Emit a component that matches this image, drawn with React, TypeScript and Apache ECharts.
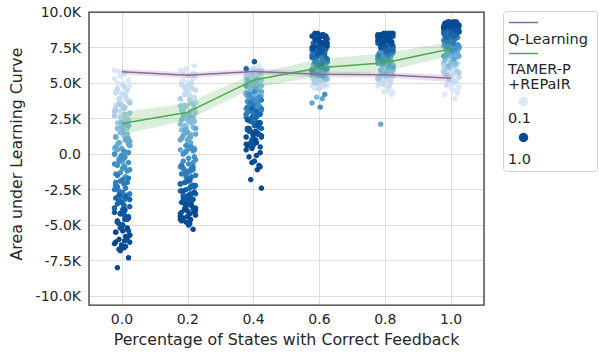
import React, { useEffect, useRef } from "react";
import * as echarts from "echarts";

// ---------------- data ----------------
const xValues = [0.0, 0.2, 0.4, 0.6, 0.8, 1.0];
const hueLevels = [0.1, 0.2, 0.3, 0.4, 0.5, 0.6, 0.7, 0.8, 0.9, 1.0];
const hueColors = [
  "#dae8f6", "#c6dbef", "#a9cfe5", "#84bcdb", "#63a8d3",
  "#4291c6", "#2c7bba", "#1a66ad", "#0d559f", "#084a91",
];

// strip values (in thousands) per x column, one list per hue level
const strip00 = [
  [5.9, 5.7, 5.5, 5.2, 5.0, 4.9, 4.6, 4.4, 4.2, 5.8, 4.8, 4.0, 5.6, 5.3, 4.7, 4.3, 5.1, 4.5],
  [4.9, 4.5, 4.3, 4.1, 3.9, 3.7, 3.5, 3.3, 3.1, 4.7, 3.0, 2.8, 4.6, 4.2, 3.8, 3.4, 4.0, 3.6],
  [3.6, 3.4, 3.2, 3.0, 2.8, 2.6, 2.4, 2.2, 2.0, 1.8, 3.1, 2.5, 3.5, 2.9, 2.3, 2.1, 2.7, 3.3],
  [2.2, 2.0, 1.8, 1.6, 1.4, 1.2, 1.0, 0.8, 0.6, 1.9, 1.3, 0.4, 2.1, 1.5, 1.1, 0.7, 1.7, 0.9],
  [1.2, 1.0, 0.8, 0.6, 0.4, 0.2, 0.0, -0.2, -0.4, 0.7, 0.3, -0.6, 1.1, 0.5, 0.1, -0.3, 0.9, -0.1],
  [0.2, 0.0, -0.2, -0.4, -0.6, -0.8, -1.0, -1.2, -1.4, -1.6, -0.5, -1.1, -0.1, -0.3, -0.7, -0.9, -1.3, 0.1],
  [-1.5, -1.8, -2.0, -2.2, -2.4, -2.6, -2.8, -3.0, -2.1, -2.5, -3.2, -1.9, -1.7, -2.3, -2.7, -2.9, -2.0, -3.1],
  [-2.9, -3.2, -3.4, -3.6, -3.8, -4.0, -4.2, -4.4, -3.5, -3.9, -4.6, -3.1, -3.0, -3.3, -3.7, -4.1, -4.3, -3.8],
  [-3.9, -4.2, -4.5, -4.8, -5.0, -5.3, -5.5, -4.4, -4.9, -5.7, -5.1, -4.0, -4.1, -4.6, -5.2, -5.4, -4.7, -5.0],
  [-5.2, -5.5, -5.8, -6.0, -6.2, -6.4, -6.6, -6.3, -6.1, -6.8, -7.3, -8.0, -5.4, -5.9, -6.2, -6.5, -6.7, -5.7],
];
const strip02 = [
  [6.2, 5.8, 5.5, 5.3, 5.1, 4.9, 4.7, 5.6, 5.0, 4.5, 5.9, 4.8, 6.0, 5.4, 5.2, 4.6, 5.7, 5.0],
  [5.0, 4.7, 4.5, 4.3, 4.1, 3.9, 3.7, 4.4, 4.0, 3.5, 4.8, 3.8, 4.9, 4.6, 4.2, 3.6, 4.3, 3.9],
  [3.9, 3.6, 3.4, 3.2, 3.0, 2.8, 3.5, 3.1, 2.6, 3.3, 2.9, 2.4, 3.8, 3.4, 3.0, 2.7, 3.2, 2.5],
  [2.8, 2.6, 2.4, 2.2, 2.0, 1.8, 1.6, 2.5, 2.1, 1.4, 1.9, 2.3, 2.7, 2.3, 1.9, 1.7, 2.5, 1.5],
  [1.8, 1.5, 1.2, 1.0, 0.8, 0.6, 0.4, 1.3, 0.9, 0.2, 1.1, 0.5, 1.7, 1.4, 1.0, 0.7, 0.3, 1.2],
  [0.6, 0.3, 0.0, -0.3, -0.6, -0.8, -1.0, 0.1, -0.4, -1.2, 0.4, -0.9, 0.5, 0.2, -0.2, -0.5, -0.7, -1.1],
  [-0.8, -1.1, -1.3, -1.5, -1.7, -1.9, -2.1, -1.2, -1.6, -2.3, -1.0, -1.8, -0.9, -1.4, -1.6, -2.0, -2.2, -1.3],
  [-1.8, -2.1, -2.3, -2.5, -2.7, -2.9, -3.1, -2.2, -2.6, -3.3, -2.0, -2.8, -1.9, -2.4, -2.6, -3.0, -3.2, -2.3],
  [-2.6, -2.9, -3.2, -3.4, -3.6, -3.8, -4.0, -3.0, -3.5, -4.2, -2.8, -3.7, -2.7, -3.1, -3.3, -3.9, -4.1, -3.6],
  [-3.5, -3.8, -4.0, -4.2, -4.4, -4.6, -4.8, -4.1, -4.5, -5.0, -5.3, -4.7, -3.6, -3.9, -4.3, -4.4, -4.9, -4.6],
];
const strip04 = [
  [6.2, 6.0, 5.9, 5.8, 5.7, 5.6, 5.5, 6.1, 5.4, 5.8, 5.3, 5.6, 6.0, 5.7, 5.5, 6.1, 5.9, 5.4],
  [6.0, 5.8, 5.6, 5.5, 5.4, 5.2, 5.0, 5.7, 5.3, 4.9, 5.9, 5.1, 5.9, 5.6, 5.3, 5.0, 5.5, 5.2],
  [5.7, 5.5, 5.3, 5.1, 4.9, 4.7, 4.5, 5.2, 4.8, 4.4, 5.4, 4.6, 5.6, 5.2, 4.9, 4.6, 5.0, 4.7],
  [5.3, 5.0, 4.8, 4.6, 4.4, 4.2, 4.0, 4.7, 4.3, 3.8, 5.1, 4.5, 5.2, 4.9, 4.5, 4.1, 4.7, 4.3],
  [4.8, 4.5, 4.2, 4.0, 3.8, 3.6, 3.4, 4.1, 3.7, 3.2, 4.4, 3.9, 4.6, 4.3, 3.9, 3.5, 4.0, 3.6],
  [4.4, 4.0, 3.7, 3.5, 3.3, 3.1, 2.9, 3.6, 3.2, 2.7, 3.9, 3.0, 4.2, 3.8, 3.4, 3.0, 3.6, 3.2],
  [3.8, 3.4, 3.1, 2.8, 2.6, 2.4, 2.2, 3.0, 2.5, 2.0, 3.3, 2.7, 3.6, 3.2, 2.9, 2.3, 2.6, 2.1],
  [3.2, 2.8, 2.4, 2.1, 1.9, 1.7, 1.5, 2.3, 1.8, 1.3, 2.6, 6.0, 3.0, 2.6, 2.2, 1.6, 2.0, 1.4],
  [2.4, 2.0, 1.6, 1.3, 1.1, 0.9, 0.7, 1.5, 1.0, 0.5, 1.8, 6.5, 2.2, 1.8, 1.4, 0.8, 1.2, 0.6],
  [1.6, 1.2, 0.8, 0.4, 0.1, -0.2, -0.5, -0.8, 0.6, -1.1, -1.8, -2.4, 1.4, 1.0, 0.3, -0.1, -0.6, -0.9],
];
const strip06 = [
  [5.4, 5.2, 5.0, 4.9, 4.8, 4.7, 5.3, 5.1, 4.6, 5.5, 4.9, 5.0, 5.3, 5.0, 4.8, 5.2],
  [5.7, 5.5, 5.3, 5.2, 5.0, 4.9, 5.6, 5.4, 5.1, 5.8, 4.6, 5.3, 5.6, 5.2, 5.0, 5.4],
  [5.9, 5.7, 5.6, 5.4, 5.3, 5.1, 5.8, 5.5, 5.2, 6.0, 5.6, 5.0, 5.8, 5.5, 5.3, 5.7],
  [6.2, 6.0, 5.8, 5.6, 5.5, 5.3, 6.1, 5.7, 5.4, 6.3, 5.9, 4.0, 6.1, 5.8, 5.5, 6.0],
  [6.5, 6.3, 6.1, 5.9, 5.7, 5.5, 6.4, 6.0, 5.6, 6.6, 3.6, 3.9, 6.4, 6.2, 5.8, 6.0],
  [6.9, 6.7, 6.5, 6.3, 6.1, 5.9, 6.8, 6.4, 6.0, 7.0, 3.3, 4.2, 6.8, 6.6, 6.2, 6.5],
  [7.3, 7.1, 6.9, 6.7, 6.5, 6.3, 7.2, 6.8, 6.4, 7.4, 6.6, 7.0, 7.2, 7.0, 6.6, 6.9],
  [7.7, 7.5, 7.3, 7.1, 6.9, 6.7, 7.6, 7.2, 6.8, 7.8, 7.0, 7.4, 7.6, 7.4, 7.0, 7.8],
  [8.1, 7.9, 7.7, 7.5, 7.3, 7.1, 8.0, 7.6, 7.2, 8.2, 7.4, 7.8, 8.0, 7.8, 7.5, 8.3],
  [8.5, 8.3, 8.1, 7.9, 7.7, 7.5, 8.4, 8.0, 7.6, 8.2, 7.8, 8.3, 8.4, 8.2, 7.9, 8.5],
];
const strip08 = [
  [5.0, 4.8, 4.6, 4.4, 4.2, 5.2, 4.9, 4.5, 5.4, 4.7, 5.1, 4.3, 4.9, 4.6, 5.3, 4.4],
  [5.6, 5.4, 5.2, 5.0, 4.8, 5.8, 5.5, 5.1, 6.0, 5.3, 5.7, 4.9, 5.5, 5.2, 5.9, 5.0],
  [6.1, 5.9, 5.7, 5.5, 5.3, 6.3, 6.0, 5.6, 6.4, 5.8, 6.2, 5.4, 6.0, 5.7, 6.3, 5.5],
  [6.5, 6.3, 6.1, 5.9, 5.7, 6.7, 6.4, 6.0, 6.8, 6.2, 6.6, 5.8, 6.4, 6.1, 6.7, 5.9],
  [6.9, 6.7, 6.5, 6.3, 6.1, 7.1, 6.8, 6.4, 7.2, 6.6, 7.0, 2.1, 6.8, 6.5, 7.1, 6.2],
  [7.3, 7.1, 6.9, 6.7, 6.5, 7.5, 7.2, 6.8, 7.6, 7.0, 7.4, 6.6, 7.2, 6.9, 7.5, 6.7],
  [7.7, 7.5, 7.3, 7.1, 6.9, 7.9, 7.6, 7.2, 8.0, 7.4, 7.8, 7.0, 7.6, 7.3, 7.9, 7.1],
  [8.0, 7.8, 7.6, 7.4, 7.2, 8.2, 7.9, 7.5, 8.3, 7.7, 8.1, 7.3, 7.9, 7.7, 8.2, 7.4],
  [8.3, 8.1, 7.9, 7.7, 7.5, 8.4, 8.2, 7.8, 8.5, 8.0, 8.3, 7.6, 8.2, 8.0, 8.4, 7.8],
  [8.5, 8.4, 8.2, 8.0, 7.8, 8.5, 8.3, 8.1, 8.4, 8.2, 8.5, 7.9, 8.4, 8.3, 8.5, 8.1],
];
const strip10 = [
  [5.3, 5.0, 4.8, 4.6, 4.4, 4.2, 3.9, 5.1, 4.7, 5.5, 4.5, 5.8, 5.2, 4.9, 4.3, 5.6],
  [6.0, 5.8, 5.6, 5.4, 5.2, 5.0, 6.2, 5.7, 5.3, 6.4, 4.9, 5.5, 5.9, 5.6, 5.1, 6.1],
  [6.6, 6.4, 6.2, 6.0, 5.8, 5.6, 6.8, 6.3, 5.9, 7.0, 6.1, 5.7, 6.5, 6.2, 5.8, 6.7],
  [7.2, 7.0, 6.8, 6.6, 6.4, 6.2, 7.4, 6.9, 6.5, 7.6, 6.7, 7.1, 7.1, 6.8, 6.4, 7.3],
  [7.7, 7.5, 7.3, 7.1, 6.9, 6.7, 7.9, 7.4, 7.0, 8.0, 7.2, 7.6, 7.6, 7.3, 6.9, 7.8],
  [8.1, 7.9, 7.7, 7.5, 7.3, 8.3, 7.8, 7.4, 8.4, 7.6, 8.0, 8.2, 8.0, 7.7, 7.6, 8.2],
  [8.5, 8.3, 8.1, 7.9, 8.6, 8.2, 7.8, 8.7, 8.0, 8.4, 8.8, 8.6, 8.4, 8.2, 8.0, 8.6],
  [8.8, 8.7, 8.5, 8.3, 8.9, 8.6, 8.2, 9.0, 8.4, 8.7, 9.1, 8.8, 8.7, 8.5, 8.3, 9.0],
  [9.1, 9.0, 8.9, 8.7, 9.2, 8.8, 9.3, 8.6, 9.0, 9.1, 8.9, 9.2, 9.0, 8.8, 9.2, 9.1],
  [9.3, 9.2, 9.1, 9.0, 9.3, 8.9, 9.2, 9.3, 9.1, 9.0, 9.2, 9.3, 9.2, 9.1, 9.3, 9.0],
];
const stripColumns = [strip00, strip02, strip04, strip06, strip08, strip10];

const qLearningName = "Q-Learning";
const qLearningMean = [5800, 5540, 5820, 5610, 5580, 5330];
const qLearningLow = [5600, 5340, 5620, 5410, 5370, 5080];
const qLearningHigh = [5990, 5740, 6010, 5810, 5780, 5580];

const tamerNameLines = ["TAMER-P", "+REPaIR"];
const tamerMean = [2150, 2950, 5200, 6080, 6430, 7420];
const tamerLow = [1350, 2400, 4650, 5480, 5830, 6900];
const tamerHigh = [2950, 3600, 5650, 6700, 7100, 7880];

const yMin = -10000;
const yMax = 10000;
const yInterval = 2500;

// positional jitter pattern (fractions of the jitter half-width)
const jitterPattern = [-0.9, 0.35, -0.2, 0.8, -0.55, 0.1, 0.65, -0.75, 0.45, -0.35, 0.95, -0.05, 0.25];
const jitterHalfWidth = 0.025;

const FONT = "DejaVu Sans";
const TEXT = "#262626";
const PURPLE = "#8a6a9b";
const GREEN = "#4aab4a";

function jitter(i: number, h: number, c: number) {
  return jitterPattern[(i + h * 5 + c * 3) % jitterPattern.length] * jitterHalfWidth;
}

function fmtY(v: number) {
  if (v === 0) return "0.0";
  return (v / 1000).toFixed(1) + "K";
}

function bandSeries(low: number[], high: number[], color: string) {
  return {
    type: "custom",
    xAxisIndex: 0,
    yAxisIndex: 0,
    z: 3,
    silent: true,
    data: xValues.map((x, i) => [x, low[i], high[i]]),
    encode: { x: 0, y: [1, 2] },
    renderItem: (params: any, api: any) => {
      if (params.dataIndex !== 0) return null;
      const top = xValues.map((x, i) => api.coord([x, high[i]]));
      const bot = xValues.map((x, i) => api.coord([x, low[i]])).reverse();
      return {
        type: "polygon",
        shape: { points: top.concat(bot) },
        style: { fill: color, opacity: 0.2 },
      };
    },
  };
}

export default function App() {
  const ref = useRef<HTMLDivElement>(null);
  useEffect(() => {
    if (!ref.current) return;
    const chart = echarts.init(ref.current, undefined, { renderer: "svg" });

    const scatterSeries = hueLevels.map((h, hi) => ({
      type: "scatter",
      name: String(h),
      xAxisIndex: 0,
      yAxisIndex: 0,
      symbol: "circle",
      symbolSize: 5.5,
      z: 2,
      itemStyle: { color: hueColors[hi], opacity: 1 },
      data: stripColumns.flatMap((col, ci) =>
        col[hi].map((v, i) => [xValues[ci] + jitter(i, hi, ci), v * 1000])
      ),
    }));

    const gridLeft = 89;
    const gridRight = 115;
    const frameTop = 12;
    const frameBottom = 305;
    const legendFont = `14.5px "${FONT}"`;

    const option: any = {
      animation: false,
      textStyle: { fontFamily: FONT },
      grid: [
        { left: gridLeft, right: gridRight, top: frameTop, bottom: 352 - 299.3 },
        { left: gridLeft, right: gridRight, top: frameTop, bottom: 352 - frameBottom },
      ],
      xAxis: [
        {
          type: "value",
          gridIndex: 0,
          min: -0.1,
          max: 1.1,
          minInterval: 0.2,
          maxInterval: 0.2,
          splitLine: { show: false },
          axisLine: { show: false },
          axisTick: { show: false },
          axisLabel: {
            formatter: (v: number) => v.toFixed(1),
            showMinLabel: false,
            showMaxLabel: false,
            margin: 16,
            fontSize: 14,
            color: TEXT,
            fontFamily: FONT,
          },
          name: "Percentage of States with Correct Feedback",
          nameLocation: "middle",
          nameGap: 32,
          nameTextStyle: { fontSize: 15.8, color: TEXT, fontFamily: FONT },
        },
        {
          type: "value",
          gridIndex: 1,
          min: -0.1,
          max: 1.1,
          minInterval: 0.2,
          maxInterval: 0.2,
          splitLine: { show: true, lineStyle: { color: "#dedede", width: 1 } },
          axisLine: { show: false },
          axisTick: { show: false },
          axisLabel: { show: false },
        },
      ],
      yAxis: [
        {
          type: "value",
          gridIndex: 0,
          min: yMin,
          max: yMax,
          interval: yInterval,
          splitLine: { show: true, lineStyle: { color: "#dedede", width: 1 } },
          axisLine: { show: false },
          axisTick: { show: false },
          axisLabel: {
            formatter: fmtY,
            margin: 8,
            fontSize: 14,
            color: TEXT,
            fontFamily: FONT,
          },
          name: "Area under Learning Curve",
          nameLocation: "middle",
          nameGap: 58,
          nameTextStyle: { fontSize: 15.8, color: TEXT, fontFamily: FONT },
        },
        {
          type: "value",
          gridIndex: 1,
          show: false,
          min: 0,
          max: 1,
          splitLine: { show: false },
        },
      ],
      series: [
        ...scatterSeries,
        bandSeries(qLearningLow, qLearningHigh, PURPLE),
        bandSeries(tamerLow, tamerHigh, GREEN),
        {
          type: "line",
          name: qLearningName,
          xAxisIndex: 0,
          yAxisIndex: 0,
          z: 4,
          symbol: "none",
          lineStyle: { color: PURPLE, width: 1.5 },
          data: xValues.map((x, i) => [x, qLearningMean[i]]),
        },
        {
          type: "line",
          name: tamerNameLines.join(""),
          xAxisIndex: 0,
          yAxisIndex: 0,
          z: 4,
          symbol: "none",
          lineStyle: { color: GREEN, width: 1.5 },
          data: xValues.map((x, i) => [x, tamerMean[i]]),
        },
      ],
      graphic: [
        {
          type: "rect",
          z: 20,
          silent: true,
          shape: { x: gridLeft, y: frameTop, width: 599 - gridLeft - gridRight, height: frameBottom - frameTop },
          style: { fill: "none", stroke: "#333333", lineWidth: 1.25 },
        },
        {
          type: "group",
          z: 20,
          children: [
            {
              type: "rect",
              shape: { x: 503.5, y: 11.5, width: 94, height: 160, r: 3 },
              style: { fill: "#ffffff", stroke: "#d4d4d4", lineWidth: 1 },
            },
            {
              type: "line",
              shape: { x1: 509, y1: 22.5, x2: 538, y2: 22.5 },
              style: { stroke: PURPLE, lineWidth: 1.5 },
            },
            {
              type: "text",
              style: { x: 508, y: 39, text: qLearningName, fill: TEXT, font: legendFont, verticalAlign: "middle" },
            },
            {
              type: "line",
              shape: { x1: 509, y1: 53.5, x2: 538, y2: 53.5 },
              style: { stroke: GREEN, lineWidth: 1.5 },
            },
            {
              type: "text",
              style: { x: 508, y: 68.5, text: tamerNameLines[0], fill: TEXT, font: legendFont, verticalAlign: "middle" },
            },
            {
              type: "text",
              style: { x: 508, y: 83.5, text: tamerNameLines[1], fill: TEXT, font: legendFont, verticalAlign: "middle" },
            },
            {
              type: "circle",
              shape: { cx: 523.5, cy: 101.5, r: 4.7 },
              style: { fill: hueColors[0] },
            },
            {
              type: "text",
              style: { x: 508, y: 118, text: hueLevels[0].toFixed(1), fill: TEXT, font: legendFont, verticalAlign: "middle" },
            },
            {
              type: "circle",
              shape: { cx: 523.5, cy: 137.5, r: 4.7 },
              style: { fill: hueColors[hueColors.length - 1] },
            },
            {
              type: "text",
              style: { x: 508, y: 159, text: hueLevels[hueLevels.length - 1].toFixed(1), fill: TEXT, font: legendFont, verticalAlign: "middle" },
            },
          ],
        },
      ],
    };

    chart.setOption(option);
    return () => chart.dispose();
  }, []);

  return <div ref={ref} style={{ width: 599, height: 352, position: "absolute", left: 0, top: 0 }} />;
}
